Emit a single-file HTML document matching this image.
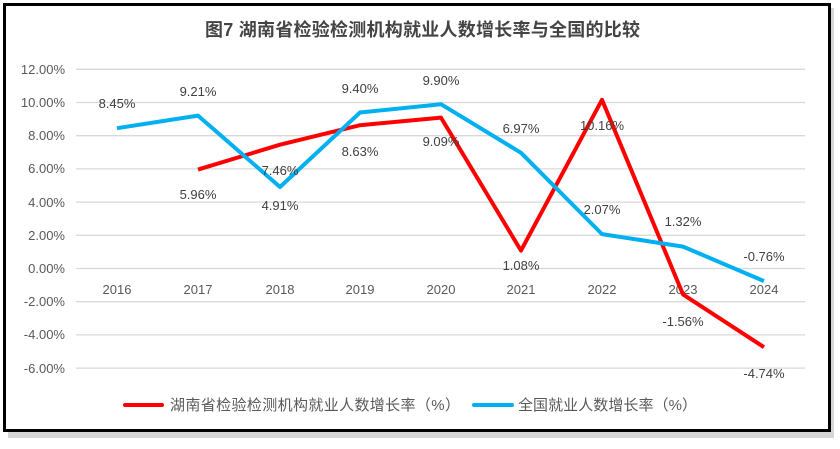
<!DOCTYPE html>
<html><head><meta charset="utf-8"><style>
body{margin:0;background:#fff;}
svg text{font-family:"Liberation Sans","Noto Sans CJK SC",sans-serif;}
</style></head><body>
<svg width="840" height="444" xmlns="http://www.w3.org/2000/svg">
<rect x="8" y="8" width="826" height="430" fill="#bbb" opacity="0.6"/>
<rect x="4.5" y="4.5" width="825" height="426" fill="#fff" stroke="#000" stroke-width="3"/>
<text x="205" y="36" textLength="435" font-size="18" font-weight="bold" fill="#444">图7 湖南省检验检测机构就业人数增长率与全国的比较</text>
<g stroke="#d9d9d9" stroke-width="1.3">
<line x1="76" x2="805" y1="69.3" y2="69.3"/><line x1="76" x2="805" y1="102.5" y2="102.5"/>
<line x1="76" x2="805" y1="135.7" y2="135.7"/><line x1="76" x2="805" y1="168.9" y2="168.9"/>
<line x1="76" x2="805" y1="202.1" y2="202.1"/><line x1="76" x2="805" y1="235.3" y2="235.3"/>
<line x1="76" x2="805" y1="268.5" y2="268.5"/><line x1="76" x2="805" y1="301.7" y2="301.7"/>
<line x1="76" x2="805" y1="334.9" y2="334.9"/><line x1="76" x2="805" y1="368.1" y2="368.1"/>
</g>
<g font-size="13" fill="#595959" text-anchor="end">
<text x="65" y="74">12.00%</text><text x="65" y="107">10.00%</text><text x="65" y="140">8.00%</text>
<text x="65" y="173">6.00%</text><text x="65" y="207">4.00%</text><text x="65" y="240">2.00%</text>
<text x="65" y="273">0.00%</text><text x="65" y="306">-2.00%</text><text x="65" y="339">-4.00%</text>
<text x="65" y="373">-6.00%</text>
</g>
<g font-size="13" fill="#595959" text-anchor="middle">
<text x="117" y="294">2016</text><text x="198" y="294">2017</text><text x="280" y="294">2018</text>
<text x="360" y="294">2019</text><text x="441" y="294">2020</text><text x="521" y="294">2021</text>
<text x="602" y="294">2022</text><text x="683" y="294">2023</text><text x="764" y="294">2024</text>
</g>
<polyline fill="none" stroke="#ff0000" stroke-width="4" stroke-linejoin="round" points="198,169.6 280,144.7 360,125.2 441,117.6 521,250.6 602,99.8 683,294.4 764,347.2"/>
<polyline fill="none" stroke="#00b0f0" stroke-width="4" stroke-linejoin="round" points="117,128.2 198,115.6 280,187 360,112.5 441,104.2 521,152.8 602,234.1 683,246.6 764,281.1"/>
<g font-size="13" fill="#404040" text-anchor="middle">
<text x="117" y="108">8.45%</text><text x="198" y="96">9.21%</text><text x="280" y="210">4.91%</text>
<text x="360" y="93">9.40%</text><text x="441" y="85">9.90%</text><text x="521" y="133">6.97%</text>
<text x="602" y="214">2.07%</text><text x="683" y="226">1.32%</text><text x="764" y="261">-0.76%</text>
<text x="198" y="199">5.96%</text><text x="280" y="175">7.46%</text><text x="360" y="156">8.63%</text>
<text x="441" y="146">9.09%</text><text x="521" y="270">1.08%</text><text x="602" y="130">10.16%</text>
<text x="683" y="326">-1.56%</text><text x="764" y="378">-4.74%</text>
</g>
<line x1="125" x2="162" y1="405" y2="405" stroke="#ff0000" stroke-width="4" stroke-linecap="round"/>
<text x="170" y="410" font-size="15" textLength="290" fill="#595959">湖南省检验检测机构就业人数增长率（%）</text>
<line x1="474" x2="512" y1="405" y2="405" stroke="#00b0f0" stroke-width="4" stroke-linecap="round"/>
<text x="518" y="410" font-size="15" textLength="179" fill="#595959">全国就业人数增长率（%）</text>
</svg>
</body></html>
